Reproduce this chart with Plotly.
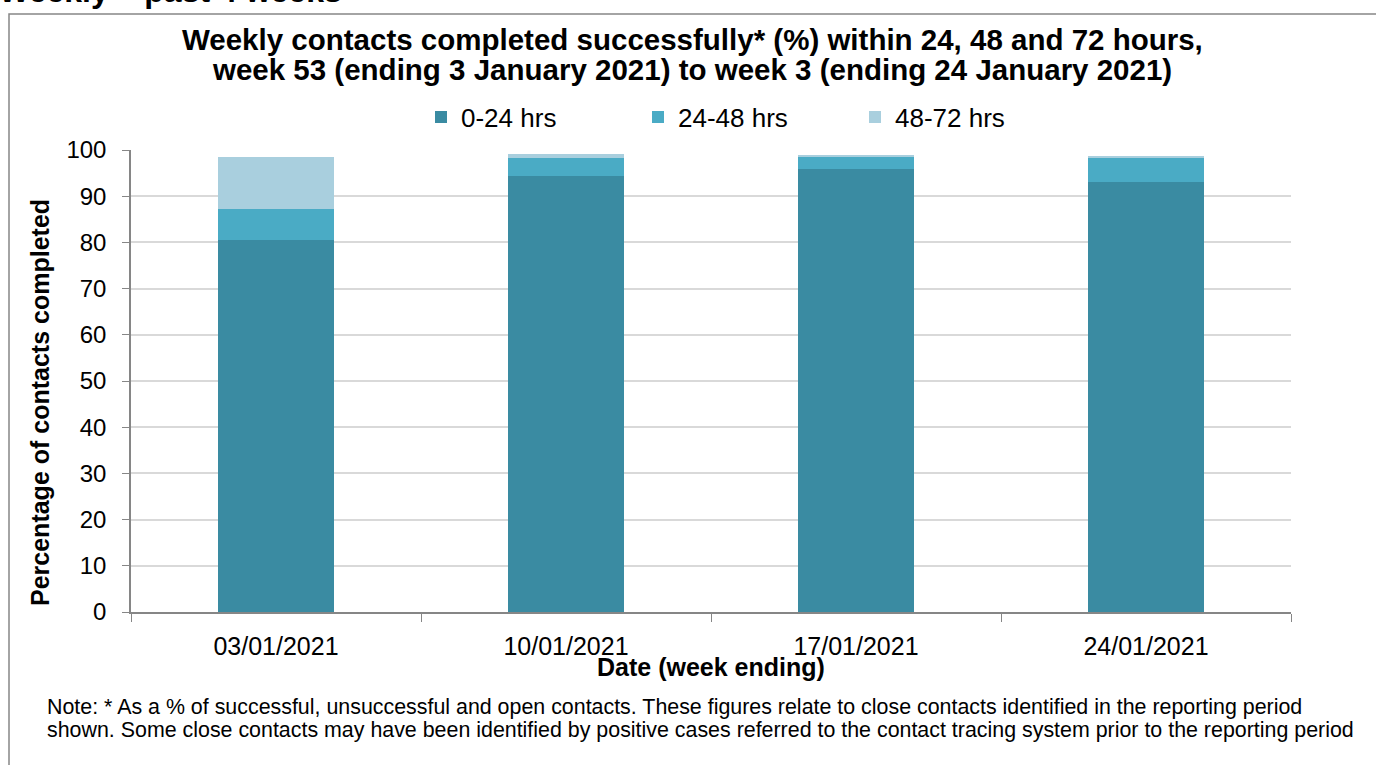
import plotly.graph_objects as go

categories = ["03/01/2021", "10/01/2021", "17/01/2021", "24/01/2021"]
series_names = ["0-24 hrs", "24-48 hrs", "48-72 hrs"]
hrs_0_24 = [80.6, 94.3, 95.9, 93.1]
hrs_24_48 = [6.7, 4.0, 2.8, 5.2]
hrs_48_72 = [11.2, 0.8, 0.1, 0.5]
colors = ["#3A8BA2", "#4AABC5", "#A9CFDE"]

W, H = 1376, 765
L, R, T, B = 131, 1291, 150, 612


def px(x):
    return (x - L) / (R - L)


def py(y):
    return (B - y) / (B - T)


FONT = "Arial, Liberation Sans, sans-serif"

fig = go.Figure()
for name, vals, c in zip(series_names, [hrs_0_24, hrs_24_48, hrs_48_72], colors):
    fig.add_trace(go.Bar(x=categories, y=vals, name=name, marker=dict(color=c, line=dict(width=0))))


def ann(text, x, y, size, xanchor="center", yanchor="middle", angle=0):
    return dict(text=text, x=px(x), y=py(y), xref="paper", yref="paper", showarrow=False,
                xanchor=xanchor, yanchor=yanchor, textangle=angle,
                font=dict(size=size, color="black", family=FONT))


annotations = [
    ann("<b>Weekly contacts completed successfully* (%) within 24, 48 and 72 hours,</b>", 692, 39, 29.5),
    ann("<b>week 53 (ending 3 January 2021) to week 3 (ending 24 January 2021)</b>", 692, 69, 29.5),
    ann("<b>Percentage of contacts completed</b>", 40, 403, 25, angle=-90),
    ann("<b>Date (week ending)</b>", 711, 667, 25),
    ann("Note: * As a % of successful, unsuccessful and open contacts. These figures relate to close contacts identified in the reporting period",
        45, 707, 21.4, xanchor="left"),
    ann("shown. Some close contacts may have been identified by positive cases referred to the contact tracing system prior to the reporting period",
        45, 730, 21.4, xanchor="left"),
    ann("<b>Weekly – past 4 weeks</b>", -3, 11, 32, xanchor="left", yanchor="bottom"),
]

shapes = [
    dict(type="rect", xref="paper", yref="paper",
         x0=px(9), x1=px(1390), y0=py(790), y1=py(14),
         line=dict(color="#868686", width=1.5), fillcolor="rgba(0,0,0,0)", layer="below"),
]

fig.update_layout(
    width=W, height=H, autosize=False,
    margin=dict(l=L, r=W - R, t=T, b=H - B, pad=0),
    paper_bgcolor="white", plot_bgcolor="white",
    barmode="stack", bargap=0.6,
    font=dict(family=FONT, color="black", size=18),
    showlegend=True,
    legend=dict(orientation="h", x=px(421), y=py(117), xanchor="left", yanchor="middle",
                font=dict(size=26, family=FONT, color="black"),
                entrywidth=172, entrywidthmode="pixels", itemwidth=30,
                bgcolor="rgba(0,0,0,0)", traceorder="normal"),
    annotations=annotations,
    shapes=shapes,
    xaxis=dict(type="category", tickson="boundaries", ticks="outside", ticklen=8,
               tickcolor="#868686", showline=True, linecolor="#868686", linewidth=1.5,
               showgrid=False, tickfont=dict(size=25, family=FONT, color="black"),
               ticklabelstandoff=11),
    yaxis=dict(range=[0, 100], dtick=10, ticks="outside", ticklen=7, tickcolor="#868686",
               showline=True, linecolor="#868686", linewidth=1.5,
               showgrid=True, gridcolor="#D9D9D9", gridwidth=1.5, zeroline=False,
               tickfont=dict(size=24, family=FONT, color="black"), ticklabelstandoff=11),
)

fig.write_html("out.html", config={"displayModeBar": False},
               post_script="document.body.style.margin='0';document.body.style.overflow='hidden';")
